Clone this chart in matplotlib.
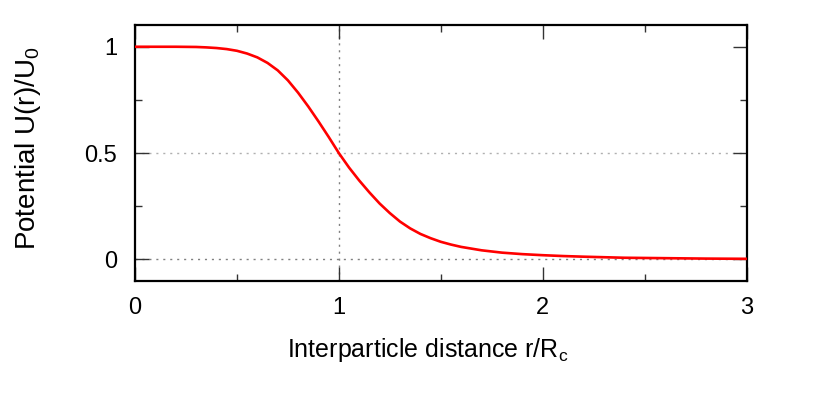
import matplotlib
matplotlib.use("Agg")
import matplotlib.pyplot as plt
from matplotlib.ticker import MultipleLocator

plt.rcParams['font.family'] = ['Liberation Sans', 'DejaVu Sans']
plt.rcParams['mathtext.fontset'] = 'custom'
plt.rcParams['mathtext.rm'] = 'Liberation Sans'

# Data
r_values = [0.0, 0.1, 0.2, 0.3, 0.35, 0.4, 0.45, 0.5, 0.55, 0.6, 0.65, 0.7, 0.75,
            0.8, 0.85, 0.9, 0.95, 1.0, 1.05, 1.1, 1.15, 1.2, 1.25, 1.3, 1.35,
            1.4, 1.45, 1.5, 1.55, 1.6, 1.7, 1.8, 1.9, 2.0, 2.1, 2.2, 2.4, 2.6,
            2.8, 3.0]
u_values = [1.0, 1.0, 1.0, 0.999, 0.997, 0.994, 0.989, 0.981, 0.968, 0.950,
            0.924, 0.889, 0.842, 0.784, 0.719, 0.649, 0.576, 0.5, 0.432, 0.371,
            0.315, 0.263, 0.218, 0.178, 0.146, 0.12, 0.1, 0.083, 0.07, 0.059,
            0.043, 0.032, 0.025, 0.02, 0.016, 0.013, 0.008, 0.006, 0.004, 0.003]
x_ticks = [0, 1, 2, 3]
y_ticks = [0, 0.5, 1]
y_tick_labels = ['0', '0.5', '1']

fig = plt.figure(figsize=(8.3, 3.97), dpi=100)
ax = fig.add_axes([0.1627, 0.2929, 0.7367, 0.6429])

# reference lines
ax.axvline(1, color='#808080', lw=1.0, linestyle=(0, (1.5, 3.5)), zorder=1)
ax.axhline(0.5, color='#b0b0b0', lw=1.0, linestyle=(0, (1.5, 3.5)), zorder=1)
ax.axhline(0, color='#808080', lw=1.0, linestyle=(0, (1.5, 3.5)), zorder=1)

ax.plot(r_values, u_values, color='#ff0000', lw=1.9, zorder=3,
        solid_joinstyle='round')

ax.set_xlim(0, 3)
ax.set_ylim(-0.1, 1.1)
ax.set_xticks(x_ticks)
ax.set_xticklabels([str(t) for t in x_ticks])
ax.set_yticks(y_ticks)
ax.set_yticklabels(y_tick_labels)
ax.xaxis.set_minor_locator(MultipleLocator(0.5))
ax.yaxis.set_minor_locator(MultipleLocator(0.25))

ax.tick_params(which='both', direction='in', top=True, right=True, width=1.0, color='#333333')
ax.tick_params(which='major', length=10, labelsize=17)
ax.tick_params(which='minor', length=5)
ax.tick_params(axis='x', which='major', pad=12)
ax.tick_params(axis='y', which='major', pad=13)
for s in ax.spines.values():
    s.set_linewidth(1.6)

ax.set_xlabel('Interparticle distance r/R$\\mathregular{_c}$', fontsize=18)
ax.xaxis.set_label_coords(0.4785, -0.215)
ax.set_ylabel('Potential U(r)/U$\\mathregular{_0}$', fontsize=20)
ax.yaxis.label.set_va('center')
ax.yaxis.set_label_coords(-0.175, 0.52)

fig.savefig('out.png', dpi=100)
